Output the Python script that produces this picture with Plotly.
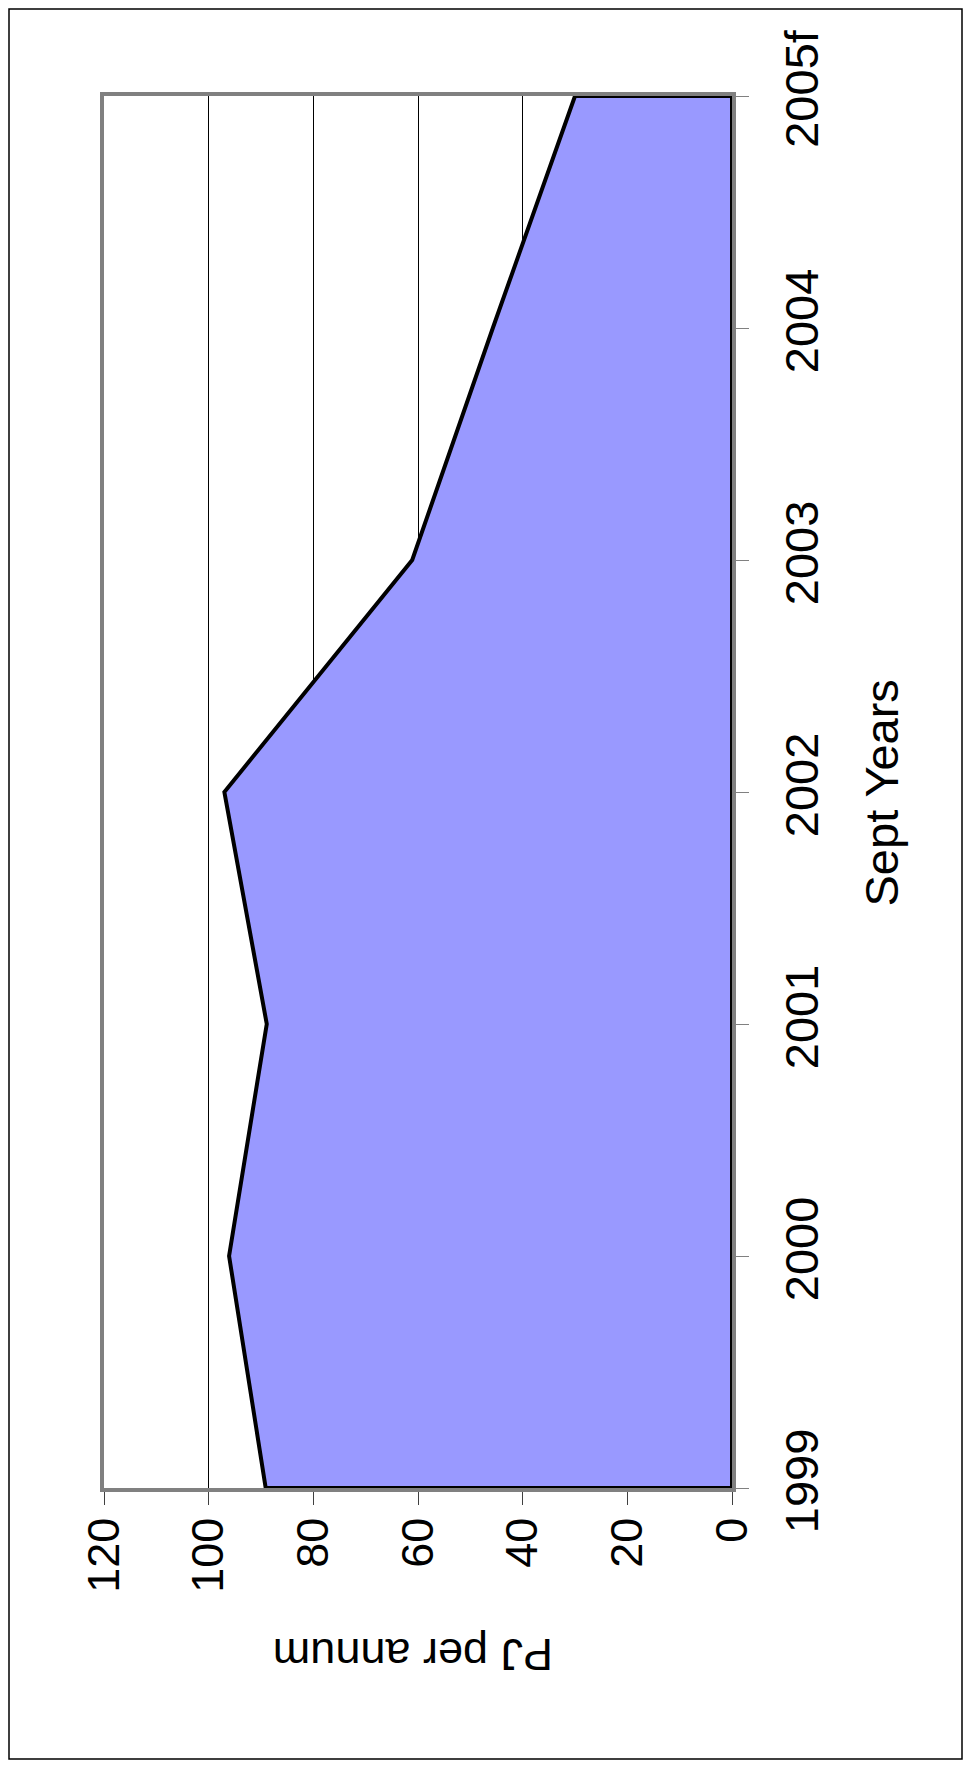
import plotly.graph_objects as go

years = ["1999", "2000", "2001", "2002", "2003", "2004", "2005f"]
pj_per_annum = [89.1, 96.1, 88.9, 97.0, 61.1, 45.7, 30.0]
value_ticks = [0, 20, 40, 60, 80, 100, 120]

# the page puts the figure 8px in from the top-left corner
OFF = 8
W, H = 971 - OFF, 1771 - OFF
# plot area in page pixels
left, right, top, bottom = 104, 732, 96, 1488
pw, ph = right - left, bottom - top


def px(x):
    return (x - left) / pw


def py(y):
    return (bottom - y) / ph


font = "Liberation Sans, Arial, sans-serif"

# closed outline: baseline at 0 -> data -> baseline
xs = [0] + pj_per_annum + [0, 0]
ys = [years[0]] + years + [years[-1], years[0]]

fig = go.Figure()
fig.add_trace(go.Scatter(
    x=xs, y=ys, mode="lines", fill="toself", fillcolor="#9999FF",
    line=dict(color="black", width=4), showlegend=False, hoverinfo="skip"))

fig.update_xaxes(
    range=[120, 0], tickvals=value_ticks, tickangle=-90,
    showgrid=True, gridcolor="black", gridwidth=1, zeroline=False,
    showline=True, linecolor="#808080", linewidth=3.5, mirror=True,
    ticks="outside", ticklen=13, tickcolor="#404040", tickwidth=1,
    ticklabelstandoff=-5, layer="below traces",
    tickfont=dict(family=font, size=45, color="black"))
fig.update_yaxes(
    type="category", categoryorder="array", categoryarray=years,
    range=[0, 6], side="right", tickangle=-90, showgrid=False,
    showline=True, linecolor="#808080", linewidth=3.5, mirror=True,
    ticks="outside", ticklen=13, tickcolor="#808080", tickwidth=1,
    ticklabelstandoff=13, layer="below traces",
    tickfont=dict(family=font, size=47, color="black"))

fig.add_annotation(text="PJ per annum", x=px(413), y=py(1682), xref="paper", yref="paper",
                   showarrow=False, textangle=180, font=dict(family=font, size=45, color="black"))
fig.add_annotation(text="Sept Years", x=px(909), y=py(793), xref="paper", yref="paper",
                   showarrow=False, textangle=-90, font=dict(family=font, size=47, color="black"))

# outer chart border
fig.add_shape(type="rect", xref="paper", yref="paper",
              x0=px(9), x1=px(962), y0=py(1759), y1=py(9),
              line=dict(color="black", width=1.5), layer="below")

fig.update_layout(
    width=W, height=H,
    margin=dict(l=left - OFF, r=W - (right - OFF), t=top - OFF, b=H - (bottom - OFF)),
    paper_bgcolor="white", plot_bgcolor="white", font=dict(family=font))

fig.write_html("out.html")
